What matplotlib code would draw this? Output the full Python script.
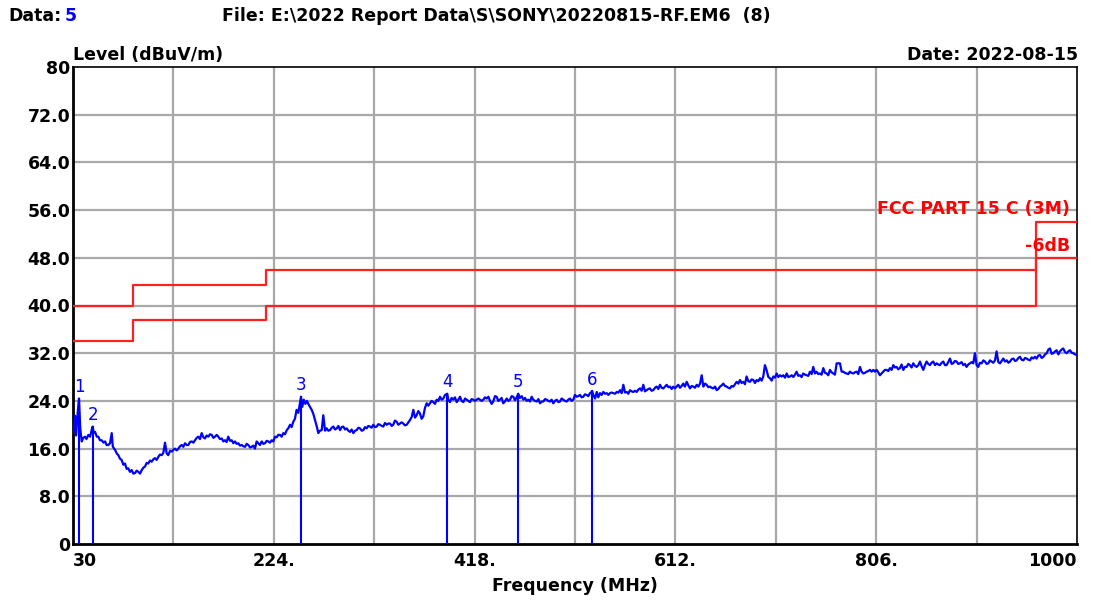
import numpy as np
import matplotlib
matplotlib.use("Agg")
import matplotlib.pyplot as plt

plt.rcParams['font.family'] = ['DejaVu Sans']

# axis setup (MHz / dBuV/m)
f_start, f_stop = 30, 1000
grid_freqs = [30 + 97 * k for k in range(11)]
xtick_freqs = [30, 224, 418, 612, 806, 1000]
xtick_labels = ['30', '224.', '418.', '612.', '806.', '1000']
ytick_vals = [0, 8, 16, 24, 32, 40, 48, 56, 64, 72, 80]
ytick_labels = ['0', '8.0', '16.0', '24.0', '32.0', '40.0', '48.0', '56.0', '64.0', '72.0', '80']

# FCC Part 15 C (3m) limit and -6dB line, step edges
limit_freq = [30, 88, 88, 216, 216, 960, 960, 1000]
limit_level = [40, 40, 43.5, 43.5, 46, 46, 54, 54]
margin_level = [34, 34, 37.5, 37.5, 40, 40, 48, 48]

# markers
marker_freq = [35.8, 49.0, 250.3, 391.6, 460.2, 531.7]
marker_level = [24.4, 19.7, 24.7, 25.2, 25.2, 25.6]
marker_names = ['1', '2', '3', '4', '5', '6']

trace_points = [
    (30.0, 18.6), (30.5, 18.8), (32.0, 21.5), (33.0, 18.2), (34.5, 22.0), (35.8, 24.4), (37.0, 19.4),
    (38.4, 17.2), (40.0, 17.8), (41.6, 18.0), (43.0, 17.6), (44.8, 18.3), (46.5, 18.0), (48.0, 19.1),
    (49.0, 19.7), (50.0, 18.6), (51.3, 18.8), (53.0, 18.0), (54.5, 18.0), (56.0, 17.4), (57.7, 17.4),
    (59.5, 17.0), (61.0, 17.2), (62.5, 16.6), (64.1, 16.6), (65.8, 16.9), (67.4, 18.6), (68.5, 16.3),
    (70.6, 15.8), (72.2, 15.2), (73.8, 14.9), (75.4, 14.3), (77.0, 14.1), (78.6, 13.3), (80.2, 13.5),
    (81.8, 12.6), (83.4, 12.7), (85.0, 12.1), (86.7, 12.4), (88.3, 11.8), (89.9, 11.9), (91.5, 12.3),
    (93.1, 12.1), (94.8, 11.8), (96.4, 12.4), (98.0, 12.8), (99.6, 13.0), (101.2, 13.6), (102.7, 13.5),
    (104.4, 14.0), (106.0, 13.8), (107.6, 14.2), (109.2, 14.4), (110.8, 14.1), (112.4, 14.6), (114.0, 15.0),
    (115.7, 14.9), (117.3, 15.3), (118.9, 17.0), (120.5, 15.2), (122.0, 14.9), (123.7, 15.6), (125.4, 15.5),
    (127.0, 15.8), (128.5, 16.0), (130.2, 15.7), (131.8, 16.0), (133.4, 16.4), (135.0, 16.6), (136.6, 16.3),
    (138.2, 16.9), (139.8, 16.6), (141.4, 16.6), (143.0, 17.1), (144.7, 17.2), (146.3, 17.0), (147.9, 17.4),
    (149.5, 17.8), (151.0, 18.0), (152.7, 17.6), (154.3, 18.6), (155.9, 17.9), (157.5, 17.7), (159.1, 18.2),
    (160.7, 18.0), (162.4, 18.4), (164.0, 18.3), (165.6, 17.8), (167.2, 18.0), (168.8, 18.3), (170.4, 18.0),
    (172.0, 17.6), (173.7, 17.7), (175.3, 17.2), (176.8, 17.4), (178.4, 17.1), (180.0, 18.0), (181.7, 17.3),
    (183.3, 17.4), (184.9, 16.9), (186.5, 17.2), (188.1, 16.8), (189.7, 16.9), (191.4, 16.5), (193.0, 16.6),
    (194.6, 16.4), (196.2, 16.3), (197.8, 16.8), (199.4, 16.6), (201.0, 16.2), (202.6, 16.3), (204.2, 16.5),
    (205.8, 16.0), (207.4, 17.2), (209.0, 16.9), (210.7, 16.6), (212.3, 17.2), (213.9, 16.8), (215.5, 16.9),
    (217.1, 17.3), (218.7, 17.2), (220.3, 17.0), (222.0, 17.4), (223.5, 17.2), (225.2, 18.0), (226.8, 17.9),
    (228.3, 18.3), (230.0, 18.3), (231.6, 18.0), (233.2, 18.6), (234.8, 18.4), (236.5, 19.1), (238.0, 19.4),
    (239.7, 20.0), (241.2, 19.6), (242.8, 20.5), (244.4, 21.0), (246.0, 22.5), (247.7, 22.0), (249.3, 23.6),
    (250.3, 24.7), (251.5, 23.0), (253.0, 24.2), (254.5, 23.5), (256.0, 24.0), (257.3, 23.5), (259.0, 23.0),
    (260.6, 22.5), (262.2, 21.8), (263.8, 20.8), (265.4, 19.8), (267.0, 18.6), (268.6, 19.0), (270.3, 19.1),
    (271.8, 21.6), (273.5, 19.0), (275.1, 19.4), (276.7, 19.0), (278.3, 19.1), (280.0, 19.5), (281.5, 19.7),
    (283.2, 19.2), (284.8, 19.4), (286.4, 19.8), (288.0, 19.1), (289.5, 19.6), (291.1, 19.7), (292.8, 19.2),
    (294.4, 19.4), (296.0, 19.0), (297.6, 18.8), (299.2, 19.2), (300.8, 18.6), (302.5, 19.0), (304.1, 19.1),
    (305.7, 19.5), (307.3, 19.4), (308.9, 19.0), (310.5, 19.1), (312.1, 19.6), (313.7, 19.4), (315.3, 19.8),
    (316.9, 19.7), (318.5, 19.5), (320.1, 20.0), (321.8, 19.6), (323.4, 19.7), (325.0, 20.1), (326.6, 20.0),
    (328.2, 19.8), (329.8, 19.7), (331.4, 20.3), (333.1, 20.0), (334.7, 20.2), (336.3, 20.2), (337.9, 19.8),
    (339.4, 20.0), (341.0, 20.7), (342.7, 20.5), (344.3, 20.0), (345.9, 20.2), (347.5, 20.4), (349.1, 20.2),
    (350.7, 19.9), (352.4, 20.0), (354.0, 20.4), (355.6, 20.8), (357.2, 21.3), (358.8, 22.5), (360.4, 21.2),
    (362.0, 21.6), (363.6, 22.3), (365.2, 21.9), (366.8, 21.0), (368.4, 21.4), (370.0, 22.8), (371.7, 23.6),
    (373.3, 23.2), (374.9, 23.6), (376.5, 24.0), (378.1, 23.8), (379.7, 23.5), (381.4, 24.2), (383.0, 24.0),
    (384.6, 24.7), (386.2, 24.2), (387.8, 24.4), (389.4, 25.0), (391.6, 25.2), (392.6, 24.2), (394.2, 23.8),
    (395.8, 24.5), (397.4, 24.2), (399.0, 24.6), (400.7, 23.8), (402.3, 24.2), (403.9, 24.7), (405.5, 24.0),
    (407.1, 23.8), (408.8, 24.4), (410.4, 24.2), (412.0, 24.0), (413.5, 23.8), (415.1, 24.3), (416.7, 24.2),
    (418.3, 24.0), (420.0, 24.2), (421.6, 24.4), (423.2, 24.2), (424.8, 24.0), (426.4, 24.2), (428.0, 24.6),
    (429.7, 24.4), (431.3, 24.7), (432.9, 24.0), (434.5, 23.5), (436.0, 23.9), (437.7, 24.8), (439.3, 24.7),
    (440.9, 24.0), (442.5, 24.2), (444.1, 24.5), (445.7, 23.6), (447.3, 23.9), (449.0, 24.4), (450.6, 24.0),
    (452.2, 24.2), (453.8, 24.8), (455.4, 24.7), (457.0, 24.1), (458.6, 24.6), (460.2, 25.2), (461.8, 24.5),
    (463.5, 24.8), (465.1, 24.2), (466.7, 24.5), (468.3, 24.0), (469.9, 24.2), (471.5, 23.9), (473.1, 24.7),
    (474.7, 24.2), (476.3, 24.0), (478.0, 23.9), (479.6, 24.3), (481.2, 23.6), (482.8, 23.9), (484.4, 23.9),
    (486.0, 24.3), (487.7, 24.2), (489.2, 24.0), (490.8, 23.9), (492.4, 24.2), (494.0, 23.6), (495.7, 24.0),
    (497.3, 24.2), (498.9, 23.8), (500.5, 23.9), (502.1, 24.4), (503.7, 24.2), (505.3, 24.0), (507.0, 23.9),
    (508.5, 24.2), (510.1, 24.4), (511.7, 24.0), (513.3, 24.2), (515.0, 25.0), (516.6, 24.7), (518.2, 24.8),
    (519.8, 25.0), (521.4, 24.6), (523.0, 24.7), (524.6, 25.1), (526.3, 25.0), (527.9, 24.8), (529.5, 25.3),
    (531.7, 25.6), (533.0, 24.9), (534.4, 24.4), (536.0, 25.5), (537.5, 24.6), (539.1, 25.3), (540.7, 25.0),
    (542.3, 25.5), (544.0, 25.2), (545.6, 25.3), (547.2, 25.0), (548.8, 25.3), (550.4, 25.4), (552.0, 25.3),
    (553.7, 25.2), (555.3, 25.5), (556.9, 25.4), (558.5, 25.8), (560.1, 25.3), (561.7, 26.7), (563.3, 25.4),
    (564.9, 25.5), (566.5, 25.2), (568.1, 25.8), (569.7, 25.6), (571.3, 25.5), (573.0, 25.7), (574.6, 25.5),
    (576.2, 25.9), (577.8, 26.1), (579.4, 25.7), (581.0, 26.7), (582.6, 25.6), (584.3, 25.8), (585.9, 26.0),
    (587.4, 26.1), (589.0, 25.7), (590.6, 25.8), (592.3, 26.2), (593.9, 26.4), (595.5, 26.0), (597.1, 26.7),
    (598.7, 26.2), (600.3, 26.1), (602.0, 26.4), (603.6, 26.7), (605.2, 26.3), (606.8, 26.4), (608.4, 26.0),
    (610.0, 26.4), (611.6, 26.1), (613.2, 26.4), (614.8, 26.7), (616.4, 26.2), (618.0, 26.5), (619.6, 26.9),
    (621.2, 26.4), (622.9, 27.2), (624.5, 26.6), (626.1, 26.1), (627.7, 26.5), (629.3, 26.4), (630.9, 26.2),
    (632.6, 26.7), (634.2, 26.4), (635.8, 26.9), (637.4, 28.3), (639.0, 26.4), (640.6, 26.9), (642.2, 26.7),
    (643.8, 26.3), (645.4, 26.4), (647.0, 26.2), (648.7, 26.1), (650.3, 26.4), (651.9, 25.8), (653.5, 26.0),
    (655.1, 26.4), (656.7, 26.6), (658.3, 26.9), (659.9, 26.5), (661.5, 26.4), (663.1, 26.2), (664.7, 26.1),
    (666.4, 26.5), (668.0, 26.4), (669.6, 26.8), (671.2, 27.2), (672.8, 26.9), (674.4, 27.5), (676.0, 27.0),
    (677.6, 27.2), (679.2, 26.8), (680.8, 28.1), (682.4, 27.3), (684.0, 27.2), (685.7, 27.6), (687.3, 27.5),
    (688.9, 27.0), (690.5, 27.5), (692.1, 27.3), (693.7, 27.8), (695.3, 27.4), (696.9, 28.1), (698.5, 30.0),
    (700.2, 29.1), (701.8, 28.0), (703.4, 27.8), (705.0, 27.4), (706.6, 28.1), (708.2, 27.9), (709.8, 28.6),
    (711.4, 28.0), (713.0, 28.3), (714.6, 28.1), (716.2, 28.3), (717.9, 27.9), (719.5, 28.6), (721.1, 28.0),
    (722.7, 28.1), (724.3, 28.3), (725.9, 28.0), (727.5, 28.4), (729.1, 28.9), (730.7, 28.2), (732.3, 28.3),
    (733.9, 28.0), (735.5, 28.6), (737.2, 28.4), (738.8, 28.3), (740.4, 28.2), (742.0, 28.9), (743.6, 28.5),
    (745.2, 29.7), (746.8, 28.6), (748.4, 28.9), (750.0, 28.5), (751.6, 28.6), (753.2, 28.4), (754.9, 29.5),
    (756.5, 28.7), (758.1, 28.6), (759.7, 28.3), (761.3, 29.2), (762.9, 28.8), (764.5, 28.6), (766.1, 28.4),
    (767.8, 30.3), (769.4, 30.3), (771.0, 30.3), (772.6, 28.9), (774.2, 28.9), (775.8, 28.7), (777.4, 28.6),
    (779.0, 28.5), (780.6, 28.9), (782.2, 28.7), (783.8, 28.6), (785.5, 28.8), (787.1, 28.9), (788.7, 28.5),
    (790.3, 29.7), (791.9, 28.9), (793.5, 28.6), (795.1, 28.7), (796.7, 28.9), (798.3, 29.0), (800.0, 29.2),
    (801.6, 28.9), (803.2, 29.2), (804.8, 28.9), (806.4, 29.2), (808.0, 28.8), (809.6, 28.3), (811.2, 28.6),
    (812.8, 28.9), (814.4, 29.2), (816.1, 29.2), (817.7, 29.0), (819.3, 29.5), (820.9, 29.2), (822.5, 30.0),
    (824.1, 29.6), (825.7, 29.7), (827.3, 29.3), (828.9, 29.5), (830.5, 30.1), (832.2, 29.2), (833.8, 29.7),
    (835.4, 29.7), (837.0, 30.2), (838.6, 30.0), (840.2, 29.6), (841.8, 30.3), (843.4, 29.9), (845.0, 29.7),
    (846.7, 30.0), (848.3, 30.6), (849.9, 29.8), (851.5, 29.2), (853.1, 30.0), (854.7, 30.6), (856.3, 30.2),
    (857.9, 30.0), (859.5, 30.4), (861.1, 30.6), (862.8, 30.0), (864.4, 30.3), (866.0, 30.1), (867.6, 30.0),
    (869.2, 30.4), (870.8, 30.6), (872.4, 30.0), (874.0, 30.0), (875.6, 30.5), (877.3, 31.1), (878.9, 30.2),
    (880.4, 30.3), (882.0, 30.7), (883.7, 30.6), (885.3, 30.2), (886.9, 30.3), (888.5, 30.5), (890.1, 30.0),
    (891.7, 30.2), (893.3, 29.7), (894.9, 30.1), (896.6, 30.3), (898.2, 30.5), (899.8, 30.3), (901.4, 32.0),
    (903.0, 30.0), (904.6, 29.7), (906.2, 30.4), (907.9, 30.3), (909.5, 30.8), (911.1, 30.6), (912.7, 30.2),
    (914.3, 30.3), (915.9, 30.8), (917.5, 30.6), (919.1, 30.4), (920.8, 30.8), (922.3, 32.3), (924.0, 30.5),
    (925.6, 30.3), (927.2, 30.7), (928.8, 31.1), (930.4, 30.6), (932.1, 30.8), (933.7, 30.4), (935.3, 30.6),
    (936.9, 31.0), (938.5, 31.1), (940.1, 30.7), (941.7, 30.8), (943.3, 31.2), (944.9, 31.4), (946.5, 30.9),
    (948.2, 30.8), (949.8, 31.2), (951.4, 31.1), (953.0, 30.9), (954.6, 30.8), (956.2, 31.3), (957.8, 31.1),
    (959.4, 31.4), (961.0, 31.1), (962.6, 31.6), (964.2, 31.7), (965.9, 31.2), (967.5, 31.4), (969.1, 31.8),
    (970.7, 32.0), (972.3, 32.6), (973.9, 32.8), (975.5, 31.9), (977.1, 32.0), (978.7, 32.3), (980.3, 32.5),
    (982.0, 31.8), (983.5, 32.3), (985.1, 32.6), (986.7, 32.8), (988.4, 32.2), (990.0, 32.0), (991.6, 32.3),
    (993.2, 32.5), (994.8, 32.1), (996.4, 32.0), (998.0, 31.8), (1000.0, 31.7),
]
trace_freq, trace_level = np.array(trace_points).T

W, H = 1097, 601
FS = 12.5
fig = plt.figure(figsize=(W / 100, H / 100), dpi=100)
ax = fig.add_axes([73 / W, 1 - 544 / H, (1077 - 73) / W, (544 - 67) / H])

ax.set_xlim(f_start, f_stop)
ax.set_ylim(0, 80)

for f in grid_freqs[1:-1]:
    ax.axvline(f, color='#a8a8a8', lw=1.6, zorder=1)
for v in ytick_vals[1:-1]:
    ax.axhline(v, color='#a8a8a8', lw=1.6, zorder=1)

ax.plot(limit_freq, limit_level, color='#ff2020', lw=1.6, zorder=3)
ax.plot(limit_freq, margin_level, color='#ff2020', lw=1.6, zorder=3)

ax.plot(trace_freq, trace_level, color='#0000ff', lw=1.6, zorder=4)

for f, v, name in zip(marker_freq, marker_level, marker_names):
    ax.plot([f, f], [0, v], color='#0000ff', lw=1.5, zorder=4)
    ax.annotate(name, (f, v), xytext=(0, 2), textcoords='offset points',
                ha='center', va='bottom', color='#0000ff', fontsize=12, zorder=5)

ax.text(993, 56.2, 'FCC PART 15 C (3M)', color='#ff0000', fontsize=FS, fontweight='bold',
        ha='right', va='center', zorder=5)
ax.text(993, 50.0, '-6dB', color='#ff0000', fontsize=FS, fontweight='bold',
        ha='right', va='center', zorder=5)

ax.set_xticks(xtick_freqs)
ax.set_xticklabels(xtick_labels, fontsize=FS, fontweight='bold')
ax.set_yticks(ytick_vals)
ax.set_yticklabels(ytick_labels, fontsize=FS, fontweight='bold')
ax.tick_params(length=0)
ax.tick_params(axis='x', pad=6)
ax.tick_params(axis='y', pad=2)
xl = ax.get_xticklabels()
xl[0].set_ha('left')
xl[-1].set_ha('right')

for s in ax.spines.values():
    s.set_color('black')
    s.set_linewidth(1.2)
ax.spines['left'].set_linewidth(2)
ax.spines['bottom'].set_linewidth(2)

ax.set_xlabel('Frequency (MHz)', fontsize=FS, fontweight='bold', labelpad=5)

fig.text(73 / W, 1 - 55 / H, 'Level (dBuV/m)', fontsize=FS, fontweight='bold', ha='left', va='center')
fig.text(1078 / W, 1 - 55 / H, 'Date: 2022-08-15', fontsize=FS, fontweight='bold', ha='right', va='center')
fig.text(8 / W, 1 - 16 / H, 'Data:', fontsize=FS, fontweight='bold', ha='left', va='center')
fig.text(65 / W, 1 - 16 / H, '5', fontsize=FS, fontweight='bold', color='#0000ff', ha='left', va='center')
fig.text(222 / W, 1 - 16 / H, 'File: E:\\2022 Report Data\\S\\SONY\\20220815-RF.EM6  (8)',
         fontsize=FS, fontweight='bold', ha='left', va='center')

fig.savefig('out.png', dpi=100, facecolor='white')
